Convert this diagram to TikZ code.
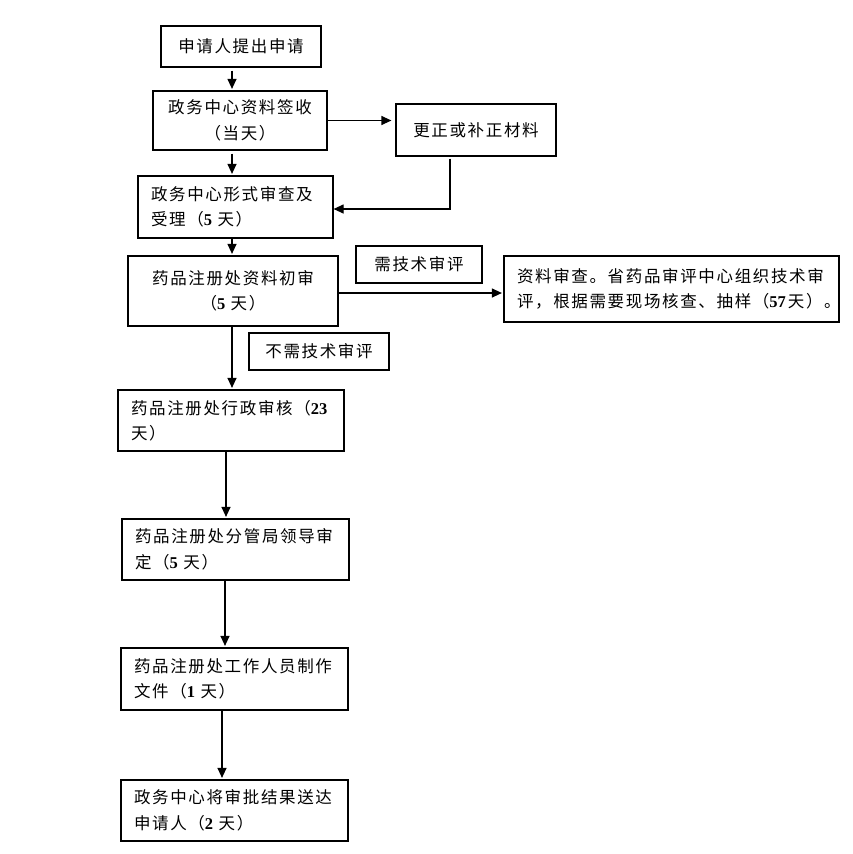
\documentclass[tikz,border=0pt]{standalone}
\usepackage{fontspec}
\setmainfont{Liberation Serif}
\newfontfamily\cjk[LetterSpace=10]{Noto Sans CJK SC}
\usetikzlibrary{arrows.meta}
\newcommand\dg[1]{{\rmfamily\bfseries #1}}

\begin{document}
\begin{tikzpicture}[x=1pt, y=-1pt, line width=1.2pt,
    box/.style={draw, align=center, inner sep=0pt, font=\cjk\fontsize{16.5}{25.5}\selectfont},
    lbox/.style={box, align=left, inner xsep=13pt},
    arr/.style={-{Triangle[length=10pt, width=9pt]}, shorten >=1.5pt}]
    \useasboundingbox (0, 0) rectangle (853, 854);

    \coordinate (spine) at (232, 0);

    \node [box, minimum width=160pt, minimum height=41pt] (apply)  at (241, 46.5)   {申请人提出申请};
    \node [box, minimum width=174pt, minimum height=59pt] (sign)   at (240, 120.5)  {政务中心资料签收\\（当天）};
    \node [box, minimum width=160pt, minimum height=52pt] (fix)    at (476, 130)    {更正或补正材料};
    \node [lbox, text width=169pt, minimum height=62pt]   (formal) at (235.5, 207)  {政务中心形式审查及\\受理（\dg{5}~天）};
    \node [box, minimum width=210pt, minimum height=70pt] (first)  at (233, 291)    {药品注册处资料初审\\（\dg{5}~天）};
    \node [box, minimum width=126pt, minimum height=37pt] (need)   at (419, 264.5)  {需技术审评};
    \node [lbox, text width=309pt, minimum height=66pt]   (tech)   at (671.5, 289)  {资料审查。省药品审评中心组织技术审\\评，根据需要现场核查、抽样（\dg{57}\kern2pt 天）。};
    \node [box, minimum width=140pt, minimum height=37pt] (noneed) at (319, 351.5)  {不需技术审评};
    \node [lbox, text width=200pt, minimum height=61pt]   (admin)  at (231, 420.5)  {药品注册处行政审核（\dg{23}\\天）};
    \node [lbox, text width=201pt, minimum height=61pt]   (lead)   at (235.5, 549.5){药品注册处分管局领导审\\定（\dg{5}~天）};
    \node [lbox, text width=201pt, minimum height=62pt]   (doc)    at (234.5, 679)  {药品注册处工作人员制作\\文件（\dg{1}~天）};
    \node [lbox, text width=201pt, minimum height=61pt]   (send)   at (234.5, 810.5){政务中心将审批结果送达\\申请人（\dg{2}~天）};

    \draw [arr, shorten <=3pt] (apply.south -| spine) -- (sign.north -| spine);
    \draw [arr, shorten <=3pt] (sign.south -| spine) -- (formal.north -| spine);
    \draw [arr] (formal.south -| spine) -- (first.north -| spine);
    \draw [arr] (first.south -| spine) -- (admin.north -| spine);
    \draw [arr, shorten >=4pt] (sign.east) -- (sign.east -| fix.west);
    \draw [arr, shorten <=2pt, shorten >=0pt] ([xshift=-26pt]fix.south) |- ([yshift=-2pt]formal.east);
    \draw [arr] ([yshift=-2pt]first.east) -- ([yshift=-2pt]first.east -| tech.west);

    \foreach \from/\to/\dx in {admin/lead/-5, lead/doc/-10.5, doc/send/-12.5} {
        \draw [arr] ([xshift=\dx pt]\from.south) -- ([xshift=\dx pt]\from.south |- \to.north);
        }
\end{tikzpicture}
\end{document}
